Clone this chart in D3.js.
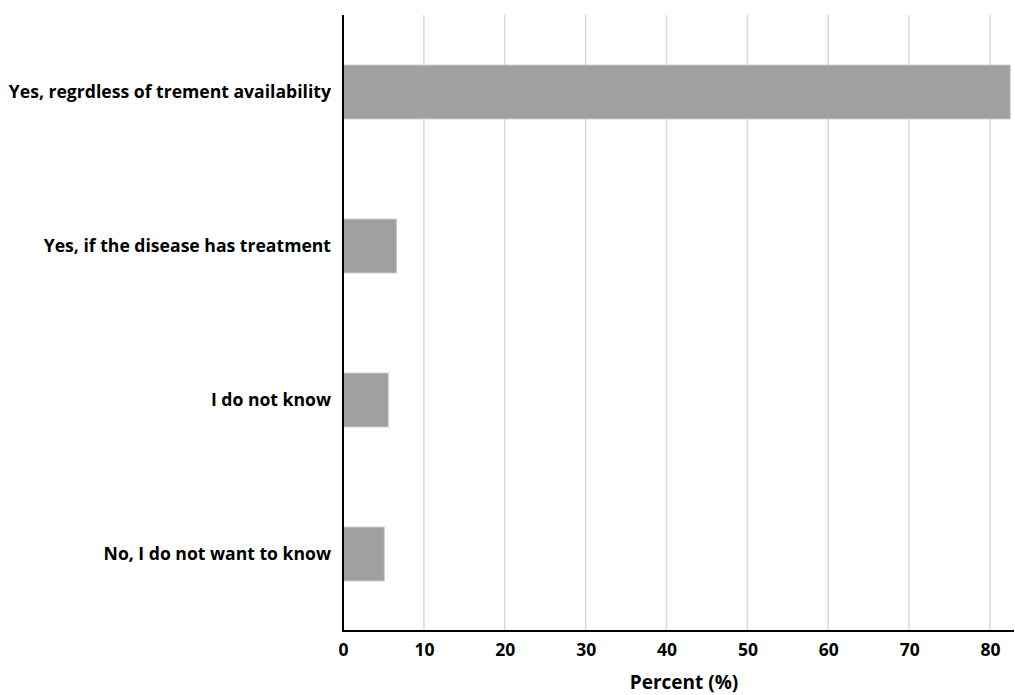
<!DOCTYPE html>
<html>
<head>
<meta charset="utf-8">
<script src="https://cdn.jsdelivr.net/npm/d3@7"></script>
<style>
  body { margin: 0; background: #fff; }
  text { font-family: "Open Sans", "Liberation Sans", sans-serif; font-weight: bold; fill: #000; }
</style>
</head>
<body>
<div id="chart"></div>
<script>
// answers, top to bottom
var categories = [
  "Yes, regrdless of trement availability",
  "Yes, if the disease has treatment",
  "I do not know",
  "No, I do not want to know"
];
var percents = [82.5, 6.6, 5.6, 5.1];
var xTicks = [0, 10, 20, 30, 40, 50, 60, 70, 80];

var W = 1015, H = 695;
var margin = {top: 15, right: 2, bottom: 64, left: 343};

var svg = d3.select("#chart").append("svg")
    .attr("width", W)
    .attr("height", H);

var x = d3.scaleLinear()
    .domain([0, 80])
    .range([margin.left, margin.left + 647]);

var y = d3.scaleBand()
    .domain(categories)
    .range([margin.top, H - margin.bottom])
    .paddingInner(0.65)
    .paddingOuter(0.325);

// vertical gridlines
svg.append("g")
    .selectAll("line")
    .data(xTicks.slice(1))
    .enter().append("line")
    .attr("x1", function(d){ return x(d); })
    .attr("x2", function(d){ return x(d); })
    .attr("y1", margin.top)
    .attr("y2", H - margin.bottom)
    .style("stroke", "#d9d9d9")
    .style("stroke-width", 1.5);

// bars
svg.append("g")
    .selectAll("rect")
    .data(percents)
    .enter().append("rect")
    .attr("x", x(0))
    .attr("y", function(d, i){ return y(categories[i]); })
    .attr("width", function(d){ return x(d) - x(0); })
    .attr("height", y.bandwidth())
    .style("fill", "#a0a0a0")
    .style("stroke", "#c8c8c8")
    .style("stroke-width", 0.8);

// x axis
var xAxis = svg.append("g")
    .attr("transform", "translate(0," + (H - margin.bottom) + ")")
    .call(d3.axisBottom(x).tickValues(xTicks).tickSize(0).tickPadding(13));
xAxis.select(".domain").remove();
xAxis.selectAll("text").style("font-size", "17.5px");
xAxis.append("line")
    .attr("x1", margin.left - 1)
    .attr("x2", W - 1)
    .style("stroke", "#000")
    .style("stroke-width", 2);

// y axis
var yAxis = svg.append("g")
    .attr("transform", "translate(" + margin.left + ",0)")
    .call(d3.axisLeft(y).tickSize(0).tickPadding(12));
yAxis.select(".domain").remove();
yAxis.selectAll("text").style("font-size", "17.6px");
yAxis.append("line")
    .attr("y1", margin.top)
    .attr("y2", H - margin.bottom + 1)
    .style("stroke", "#000")
    .style("stroke-width", 2);

// axis title
svg.append("text")
    .attr("x", 684)
    .attr("y", 689)
    .attr("text-anchor", "middle")
    .style("font-size", "19px")
    .text("Percent (%)");
</script>
</body>
</html>
